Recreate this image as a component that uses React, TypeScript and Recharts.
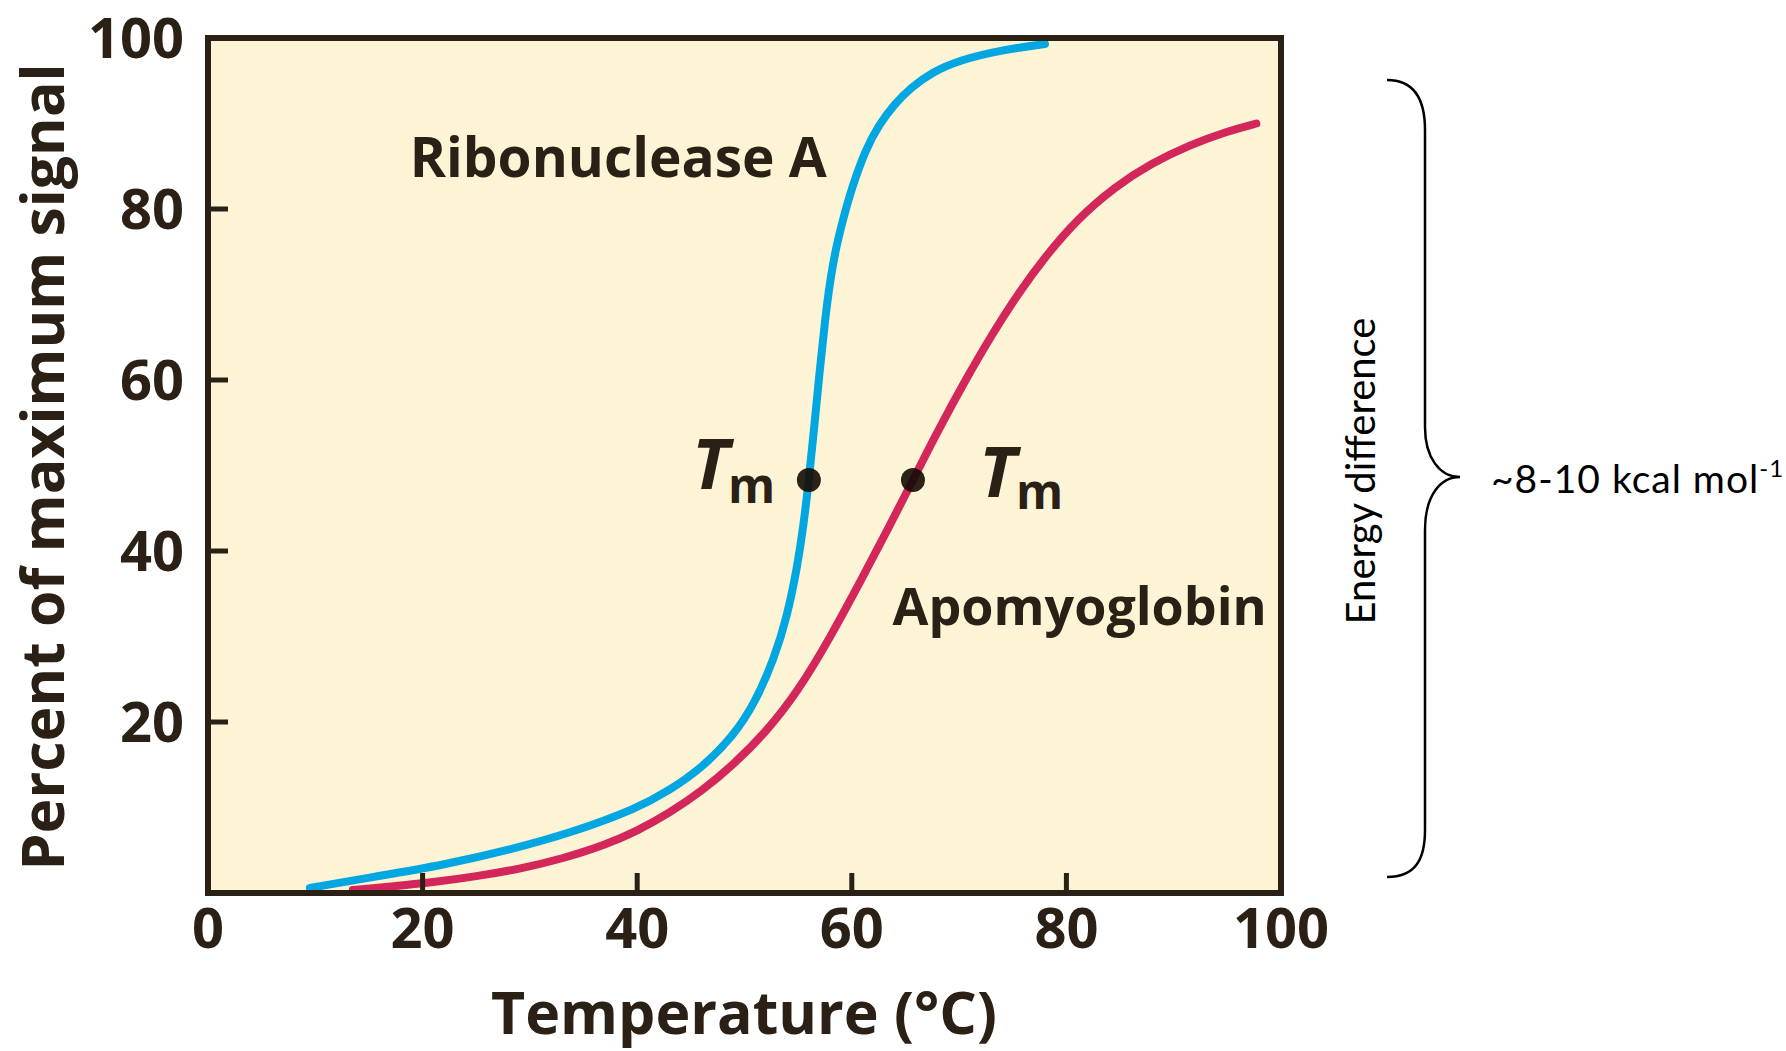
import React from "react";
import {
  CartesianGrid,
  Customized,
  Line,
  LineChart,
  ReferenceDot,
  XAxis,
  YAxis,
} from "recharts";

// melting curves (temperature in °C, percent of max signal)
const ribonucleaseTemp = [
  9.5, 16, 22, 28, 34, 40, 43, 46, 49, 51, 52.8, 54, 54.9, 55.5, 56, 56.5, 57,
  57.5, 58, 58.5, 59.1, 60, 61.3, 62.5, 64, 65.5, 67.5, 70, 74, 78,
];
const ribonucleaseSignal = [
  0.6, 2.0, 3.3, 5.0, 7.1, 9.9, 12.0, 14.6, 18.4, 22.3, 27.5, 32.5, 38, 43,
  48.3, 54.5, 61, 67, 71.8, 75.3, 78.4, 82.5, 87, 89.8, 92.3, 94.2, 96, 97.4,
  98.6, 99.3,
];

const apomyoglobinTemp = [
  13.5, 17, 21, 25, 29, 33, 37, 40, 43, 46, 49, 52, 55, 58, 61, 63.5, 65.7, 68,
  70.5, 73, 75.5, 78, 81, 84.5, 88, 91.5, 95, 97.7,
];
const apomyoglobinSignal = [
  0.35, 0.75, 1.25, 1.95, 2.8, 4.0, 5.6, 7.25, 9.35, 11.9, 15.05, 18.8, 23.6,
  29.9, 36.9, 42.9, 48.3, 54.0, 59.8, 65.2, 70.1, 74.4, 78.8, 82.6, 85.4, 87.5,
  89.1, 90,
];

const ribonucleaseTm = { t: 56, s: 48.3 };
const apomyoglobinTm = { t: 65.7, s: 48.3 };

const xTicks = [0, 20, 40, 60, 80, 100];
const yTicks = [20, 40, 60, 80, 100];
const sideTicks = [20, 40, 60, 80];

const ribonucleaseData = ribonucleaseTemp.map((t, i) => ({
  t,
  s: ribonucleaseSignal[i],
}));
const apomyoglobinData = apomyoglobinTemp.map((t, i) => ({
  t,
  s: apomyoglobinSignal[i],
}));

const INK = "#2a2015";
const BLUE = "#02a6e0";
const RED = "#d3265a";
const FONT = "'Open Sans', sans-serif";

const frame = { stroke: INK, strokeWidth: 6, strokeLinecap: "square" as const };
const tickMark = { stroke: INK, strokeWidth: 5 };
const tickText = { fontSize: 56, fontFamily: FONT, fontWeight: 700, fill: INK };

const TmMark = ({ cx, cy, side }: any) => {
  const left = side === "left";
  const tx = left ? cx - 117 : cx + 66;
  const ty = left ? cy + 9 : cy + 17;
  const mx = left ? cx - 81 : cx + 103;
  const my = left ? cy + 23 : cy + 29;
  return (
    <g>
      <circle cx={cx} cy={cy} r={12} fill="#140b06" fillOpacity={0.9} />
      <text fontFamily={FONT} fontWeight={700} fill={INK}>
        <tspan x={tx} y={ty} fontSize={70} fontStyle="italic">
          T
        </tspan>
        <tspan x={mx} y={my} fontSize={48}>
          m
        </tspan>
      </text>
    </g>
  );
};

const SeriesLabel = ({ cx, cy, text, size }: any) => (
  <text
    x={cx}
    y={cy}
    fontFamily={FONT}
    fontWeight={700}
    fontSize={size}
    fill={INK}
  >
    {text}
  </text>
);

const Annotations = () => (
  <g>
    <text
      transform="translate(64,467) rotate(-90)"
      textAnchor="middle"
      fontFamily={FONT}
      fontWeight={700}
      fontSize={59}
      fill={INK}
    >
      Percent of maximum signal
    </text>
    <text
      x={744}
      y={1034}
      textAnchor="middle"
      fontFamily={FONT}
      fontWeight={700}
      fontSize={59}
      fill={INK}
    >
      Temperature (°C)
    </text>
    <path
      d="M1387,80 C1415,80 1425,100 1425,130 L1425,427 C1425,458 1440,477 1460,477 C1440,477 1425,496 1425,530 L1425,830 C1425,860 1415,877 1387,877"
      fill="none"
      stroke="#000"
      strokeWidth={2.5}
    />
    <text
      transform="translate(1375,471) rotate(-90)"
      textAnchor="middle"
      fontFamily="Lato, sans-serif"
      fontSize={40}
      fill="#000"
    >
      Energy difference
    </text>
    <text
      x={1491}
      y={493}
      fontFamily="Lato, sans-serif"
      fontSize={39}
      letterSpacing={1}
      fill="#000"
    >
      ~8-10 kcal mol
      <tspan dy={-16} fontSize={24}>
        -1
      </tspan>
    </text>
  </g>
);

export default function App() {
  return (
    <div style={{ position: "absolute", left: 0, top: 0, background: "#fff" }}>
      <LineChart
        width={1786}
        height={1051}
        margin={{ top: 28, right: 495, bottom: 58, left: 48 }}
      >
        <CartesianGrid horizontal={false} vertical={false} fill="#fdf4d6" />
        <XAxis
          type="number"
          dataKey="t"
          domain={[0, 100]}
          ticks={xTicks}
          height={100}
          axisLine={frame}
          tickLine={tickMark}
          tickSize={-20}
          tickMargin={35}
          tick={tickText}
          allowDataOverflow
        />
        <XAxis
          xAxisId="top"
          orientation="top"
          type="number"
          domain={[0, 100]}
          height={10}
          axisLine={frame}
          tickLine={false}
          tick={false}
        />
        <YAxis
          type="number"
          domain={[0, 100]}
          ticks={yTicks}
          width={160}
          axisLine={frame}
          tickLine={tickMark}
          tickSize={-20}
          tickMargin={44}
          tick={tickText}
          allowDataOverflow
        />
        <YAxis
          yAxisId="right"
          orientation="right"
          type="number"
          domain={[0, 100]}
          ticks={sideTicks}
          width={10}
          axisLine={frame}
          tickLine={tickMark}
          tickSize={-20}
          tick={false}
        />
        <Line
          data={ribonucleaseData}
          dataKey="s"
          type="basis"
          stroke={BLUE}
          strokeWidth={8}
          strokeLinecap="round"
          dot={false}
          isAnimationActive={false}
        />
        <Line
          data={apomyoglobinData}
          dataKey="s"
          type="basis"
          stroke={RED}
          strokeWidth={8}
          strokeLinecap="round"
          dot={false}
          isAnimationActive={false}
        />
        <ReferenceDot
          x={ribonucleaseTm.t}
          y={ribonucleaseTm.s}
          r={12}
          shape={(p: any) => <TmMark {...p} side="left" />}
        />
        <ReferenceDot
          x={apomyoglobinTm.t}
          y={apomyoglobinTm.s}
          r={12}
          shape={(p: any) => <TmMark {...p} side="right" />}
        />
        <ReferenceDot
          x={18.8}
          y={83.7}
          r={0}
          shape={(p: any) => (
            <SeriesLabel {...p} text="Ribonuclease A" size={55} />
          )}
        />
        <ReferenceDot
          x={63.8}
          y={31.3}
          r={0}
          shape={(p: any) => <SeriesLabel {...p} text="Apomyoglobin" size={52} />}
        />
        <Customized component={Annotations} />
      </LineChart>
    </div>
  );
}
